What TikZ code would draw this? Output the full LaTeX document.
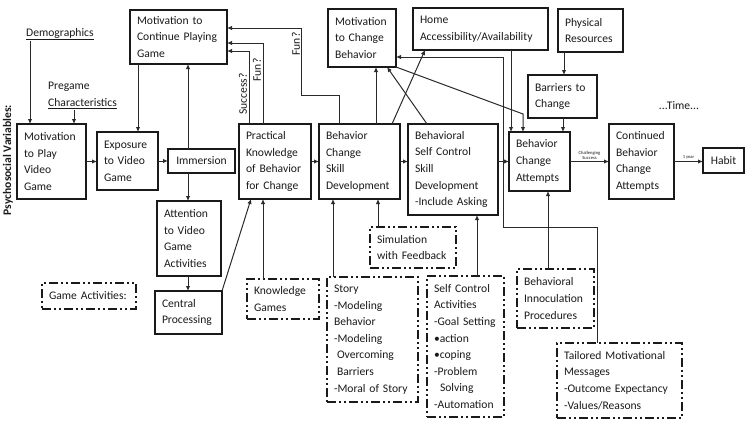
\documentclass[tikz,border=0pt]{standalone}
\usepackage{fontspec}
\setmainfont{Carlito}
\usetikzlibrary{arrows.meta}
\definecolor{ink}{HTML}{1A1A1A}
\definecolor{wire}{HTML}{2A2A2A}
\newcommand{\mainsz}{\fontsize{11.6pt}{16.6pt}\selectfont}
\newcommand{\tinysz}{\fontsize{4.6pt}{5.2pt}\selectfont}
\tikzset{
  bx/.style={draw=ink, line width=1.8pt, inner xsep=7pt, inner ysep=2pt, outer sep=0pt,
     align=left, anchor=north west, font=\mainsz, text=ink},
  dbx/.style={bx, dash pattern=on 9pt off 3pt on 2pt off 3pt on 2pt off 3pt},
  lbl/.style={inner sep=1pt, font=\mainsz, text=ink},
  arr/.style={draw=wire, line width=1pt, -{Latex[length=5pt,width=4.5pt]}},
  tag/.style={inner sep=0.5pt, font=\tinysz, text=ink, align=center}
}
\begin{document}
\begin{tikzpicture}[x=1pt,y=-1pt]
\useasboundingbox (0,0) rectangle (750,429);
% free texts
\node[lbl, rotate=90, font=\bfseries\mainsz] (psy) at (8,160) {Psychosocial Variables:};
\node[lbl, anchor=base west] (demo) at (25,36) {\underline{Demographics}};
\node[lbl, anchor=north west, align=left] (preg) at (47,81) {Pregame\\\underline{Characteristics}};
\node[lbl] (time) at (679,106) {...Time...};
% solid boxes
\node[bx, text width=55pt, minimum height=75pt] (mplay) at (17,124) {Motivation\\to Play\\Video\\Game};
\node[bx, text width=47pt, minimum height=58pt] (expo) at (97,132) {Exposure\\to Video\\Game};
\node[bx, align=center, text width=53pt, minimum height=24pt] (imm) at (168,149) {Immersion};
\node[bx, text width=83pt, minimum height=54pt] (mcont) at (130,10) {Motivation to\\Continue Playing\\Game};
\node[bx, text width=50pt, minimum height=75pt] (attn) at (157,201) {Attention\\to Video\\Game\\Activities};
\node[bx, text width=53pt, minimum height=43pt] (cproc) at (155,291) {Central\\Processing};
\node[bx, text width=58pt, minimum height=75pt] (pk) at (239,124) {Practical\\Knowledge\\of Behavior\\for Change};
\node[bx, text width=67pt, minimum height=75pt] (bcsd) at (319,124) {Behavior\\Change\\Skill\\Development};
\node[bx, text width=76pt, minimum height=91pt] (bscs) at (408,124) {Behavioral\\Self Control\\Skill\\Development\\-Include Asking};
\node[bx, text width=54pt, minimum height=58pt] (mchg) at (328,9) {Motivation\\to Change\\Behavior};
\node[bx, text width=121pt, minimum height=42pt] (home) at (413,8) {Home\\Accessibility/Availability};
\node[bx, text width=51pt, minimum height=43pt] (phys) at (558,9) {Physical\\Resources};
\node[bx, text width=55pt, minimum height=43pt] (barr) at (528,75) {Barriers to\\Change};
\node[bx, text width=47pt, minimum height=59pt] (bca) at (509,132) {Behavior\\Change\\Attempts};
\node[bx, text width=51pt, minimum height=75pt] (cont) at (609,124) {Continued\\Behavior\\Change\\Attempts};
\node[bx, align=center, text width=27pt, minimum height=25pt] (habit) at (703,148) {Habit};
% dash-dot boxes
\node[dbx, text width=80pt, minimum height=26pt] (gact) at (42,283) {Game Activities:};
\node[dbx, text width=72pt, minimum height=41pt] (sim) at (370,227) {Simulation\\with Feedback};
\node[dbx, text width=58pt, minimum height=40pt] (kg) at (247,279) {Knowledge\\Games};
\node[dbx, text width=77pt, minimum height=125pt] (story) at (327,277) {Story\\-Modeling\\Behavior\\-Modeling\\\hspace*{3pt}Overcoming\\\hspace*{3pt}Barriers\\-Moral of Story};
\node[dbx, text width=63pt, minimum height=141pt] (sca) at (427,276) {Self Control\\Activities\\-Goal Setting\\•action\\•coping\\-Problem\\\hspace*{6pt}Solving\\-Automation};
\node[dbx, text width=63pt, minimum height=59pt] (inoc) at (517,269) {Behavioral\\Innoculation\\Procedures};
\node[dbx, text width=111pt, minimum height=75pt] (tail) at (557,343) {Tailored Motivational\\Messages\\-Outcome Expectancy\\-Values/Reasons};
% connectors
\draw[arr] ([xshift=5pt]demo.south west) -- ([xshift=13pt]mplay.north west);
\draw[arr] ([xshift=27pt]preg.south west) -- ([xshift=57pt]mplay.north west);
\draw[arr] (mplay.east) -- (mplay.east -| expo.west);
\draw[arr] (expo.east) -- (expo.east -| imm.west);
\draw[arr] ([xshift=8pt]mcont.south west) -- ([xshift=41pt]expo.north west);
\draw[arr] ([xshift=20pt]imm.north west) -- ([xshift=58pt]mcont.south west);
\draw[arr] ([xshift=20pt]imm.south west) -- ([xshift=31pt]attn.north west);
\draw[arr] ([xshift=31pt]attn.south west) -- ([xshift=33pt]cproc.north west);
\draw[arr] (cproc.north east) -- ([xshift=12pt]pk.south west);
\draw[arr] (pk.east) -- (pk.east -| bcsd.west);
\draw[arr] (bcsd.east) -- (bcsd.east -| bscs.west);
\draw[arr] (bca.west -| bscs.east) -- (bca.west);
\draw[arr] (bca.east) -- node[tag, above=1pt] (lch) {Challenging\\Success} (bca.east -| cont.west);
\draw[arr] (cont.east) -- node[tag, above=1pt] (lyr) {1 year} (cont.east -| habit.west);
\draw[arr] ([xshift=6pt]phys.south west) -- ([xshift=36pt]barr.north west);
\draw[arr] ([xshift=35pt]barr.south west) -- ([xshift=54pt]bca.north west);
\draw[arr] ([xshift=98pt]home.south west) -- ([xshift=2pt]bca.north west);
\draw[arr] (mchg.south east) -- ([xshift=14pt,yshift=18pt]bca.north west) -- ([xshift=14pt]bca.north west);
\draw[arr] ([xshift=40pt]tail.north west) -- ++(0,-116) -- ++(-94,0) |- ([yshift=-19pt]mchg.east);
\draw[arr] ([xshift=57pt]bcsd.north west) -- ([xshift=48pt]mchg.south west);
\draw[arr] ([xshift=19pt]bscs.north west) -- ([xshift=59pt]mchg.south west);
\draw[arr] ([xshift=73pt]bcsd.north west) -- ([xshift=12pt]home.south west);
\draw[arr] ([xshift=20pt]bcsd.north west) -- ++(0,-29) -- ++(-38,0) |- ([yshift=9pt]mcont.east);
\draw[arr] ([xshift=24pt]pk.north west) |- ([yshift=-6pt]mcont.east);
\draw[arr] ([xshift=10pt]pk.north west) |- ([yshift=-14pt]mcont.east);
\node[lbl, rotate=90] (lsuc) at (243,94) {Success?};
\node[lbl, rotate=90] (lfun1) at (257,70) {Fun?};
\node[lbl, rotate=90] (lfun2) at (296,44) {Fun?};
\draw[arr] ([xshift=16pt]kg.north west) -- ([xshift=24pt]pk.south west);
\draw[arr] ([xshift=6pt]story.north west) -- ([xshift=14pt]bcsd.south west);
\draw[arr] ([xshift=8pt]sim.north west) -- ([xshift=59pt]bcsd.south west);
\draw[arr] ([xshift=50pt]sca.north west) -- ([xshift=69pt]bscs.south west);
\draw[arr] ([xshift=31pt]inoc.north west) -- ([xshift=39pt]bca.south west);
\end{tikzpicture}
\end{document}
